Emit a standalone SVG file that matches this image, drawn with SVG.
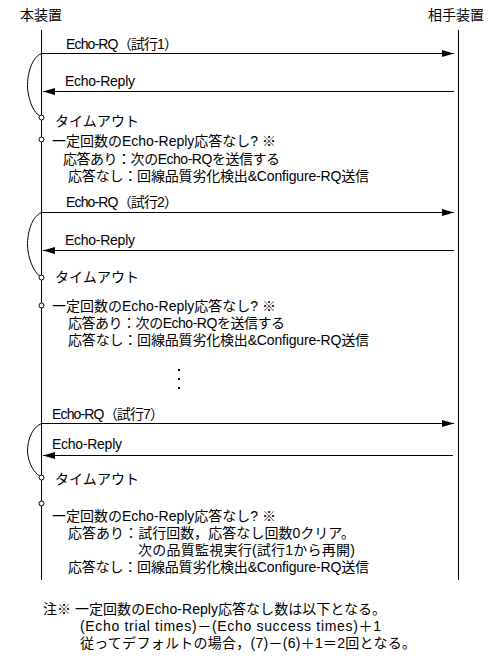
<svg xmlns="http://www.w3.org/2000/svg" width="499" height="663" viewBox="0 0 499 663">
<style>
  text { font-family: "Liberation Sans", "Noto Sans CJK JP", sans-serif; font-size: 14px; fill: #000; }
  .life { stroke: #000; stroke-width: 1; fill: none; }
  .msg { stroke: #000; stroke-width: 1; fill: none; marker-end: url(#arrow); }
  .loop { stroke: #000; stroke-width: 1; fill: none; }
  .pt { stroke: #000; stroke-width: 1; fill: #fff; }
</style>
<defs>
  <marker id="arrow" markerUnits="userSpaceOnUse" viewBox="0 0 12 7" refX="12" refY="3.5" markerWidth="12" markerHeight="7" orient="auto">
    <path d="M0,0 L12,3.5 L0,7 Z" fill="#000"/>
  </marker>
</defs>
<rect width="499" height="663" fill="#fff"/>

<g id="lifelines">
  <g id="node-local">
    <text x="20" y="20" textLength="42" lengthAdjust="spacing">本装置</text>
    <line class="life" x1="41.5" y1="30" x2="41.5" y2="580"/>
  </g>
  <g id="node-peer">
    <text x="428" y="20" textLength="56" lengthAdjust="spacing">相手装置</text>
    <line class="life" x1="458.5" y1="30" x2="458.5" y2="580"/>
  </g>
</g>

<g id="connectors">
  <line class="msg" x1="41.5" y1="53.5" x2="454" y2="53.5"/>
  <line class="msg" x1="454" y1="91.5" x2="43" y2="91.5"/>
  <line class="msg" x1="41.5" y1="212.5" x2="454" y2="212.5"/>
  <line class="msg" x1="454" y1="250.5" x2="43" y2="250.5"/>
  <line class="msg" x1="41.5" y1="423.5" x2="454" y2="423.5"/>
  <line class="msg" x1="453" y1="455.5" x2="43" y2="455.5"/>
  <path class="loop" d="M41.5,53.5 C30,58 26,80 28,92 C30,104 34,112 39.5,116"/>
  <path class="loop" d="M41.5,212.5 C30,217 26,239 28,251 C30,263 34,271 39.5,276"/>
  <path class="loop" d="M41.5,423.5 C30,428 26,446 28,456 C30,466 34,472 39.5,476"/>
</g>

<g id="trial1">
  <text x="66" y="49" textLength="112" lengthAdjust="spacing">Echo-RQ（試行1）</text>
  <text x="65" y="86" textLength="70" lengthAdjust="spacing">Echo-Reply</text>
  <circle class="pt" cx="41.5" cy="117.5" r="2.5"/>
  <text x="55" y="126" textLength="84" lengthAdjust="spacing">タイムアウト</text>
  <circle class="pt" cx="41.5" cy="139.5" r="2.5"/>
  <text x="52" y="146" textLength="224" lengthAdjust="spacing">一定回数のEcho-Reply応答なし? ※</text>
  <text x="63" y="164" textLength="217" lengthAdjust="spacing">応答あり：次のEcho-RQを送信する</text>
  <text x="68" y="181" textLength="301" lengthAdjust="spacing">応答なし：回線品質劣化検出&amp;Configure-RQ送信</text>
</g>

<g id="trial2">
  <text x="66" y="207" textLength="112" lengthAdjust="spacing">Echo-RQ（試行2）</text>
  <text x="65" y="245" textLength="70" lengthAdjust="spacing">Echo-Reply</text>
  <circle class="pt" cx="41.5" cy="277.5" r="2.5"/>
  <text x="55" y="282" textLength="84" lengthAdjust="spacing">タイムアウト</text>
  <circle class="pt" cx="41.5" cy="305.5" r="2.5"/>
  <text x="52" y="311" textLength="224" lengthAdjust="spacing">一定回数のEcho-Reply応答なし? ※</text>
  <text x="68" y="328" textLength="217" lengthAdjust="spacing">応答あり：次のEcho-RQを送信する</text>
  <text x="68" y="345" textLength="301" lengthAdjust="spacing">応答なし：回線品質劣化検出&amp;Configure-RQ送信</text>
</g>

<g id="ellipsis">
  <rect x="178" y="369" width="2" height="2" fill="#000"/>
  <rect x="178" y="378" width="2" height="2" fill="#000"/>
  <rect x="178" y="387" width="2" height="2" fill="#000"/>
</g>

<g id="trial7">
  <text x="52" y="419" textLength="112" lengthAdjust="spacing">Echo-RQ（試行7）</text>
  <text x="52" y="449" textLength="70" lengthAdjust="spacing">Echo-Reply</text>
  <circle class="pt" cx="41.5" cy="477.5" r="2.5"/>
  <text x="55" y="484" textLength="84" lengthAdjust="spacing">タイムアウト</text>
  <circle class="pt" cx="41.5" cy="503.5" r="2.5"/>
  <text x="52" y="521" textLength="224" lengthAdjust="spacing">一定回数のEcho-Reply応答なし? ※</text>
  <text x="68" y="538" textLength="287" lengthAdjust="spacing">応答あり：試行回数，応答なし回数0クリア。</text>
  <text x="138" y="555" textLength="217" lengthAdjust="spacing">次の品質監視実行(試行1から再開)</text>
  <text x="68" y="572" textLength="301" lengthAdjust="spacing">応答なし：回線品質劣化検出&amp;Configure-RQ送信</text>
</g>

<g id="note">
  <text x="43" y="614" textLength="343" lengthAdjust="spacing">注※ 一定回数のEcho-Reply応答なし数は以下となる。</text>
  <text x="80" y="631" textLength="301" lengthAdjust="spacing">(Echo trial times)－(Echo success times)＋1</text>
  <text x="80" y="648" textLength="336" lengthAdjust="spacing">従ってデフォルトの場合，(7)－(6)＋1＝2回となる。</text>
</g>
</svg>
